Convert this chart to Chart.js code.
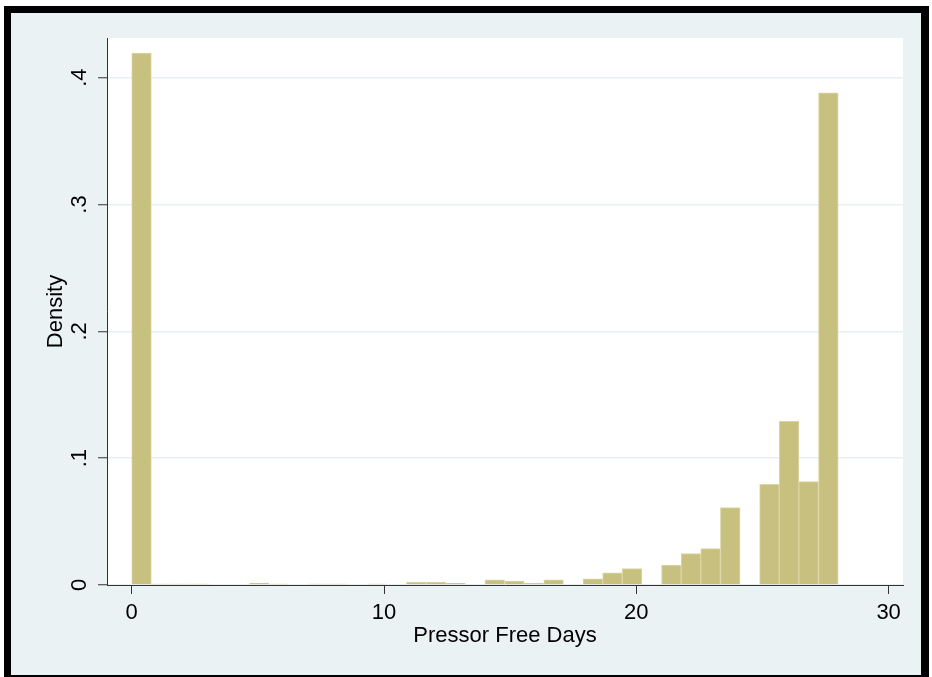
<!DOCTYPE html>
<html>
<head>
<meta charset="utf-8">
<script src="https://cdn.jsdelivr.net/npm/chart.js@4.4.1/dist/chart.umd.min.js"></script>
<style>
  html, body { margin: 0; padding: 0; background: #fff; }
  canvas { display: block; }
</style>
</head>
<body>
<canvas id="hist" width="932" height="677"></canvas>
<script>
// histogram of pressor free days: 36 bins of equal width between 0 and 28
const binStart = 0;
const binWidth = 28 / 36;
const density = [
  0.4195, 0.0008, 0.0008, 0.0008, 0, 0, 0.0016, 0.0008, 0, 0.0008,
  0.0008, 0, 0.0008, 0, 0.0024, 0.0024, 0.0016, 0, 0.0040, 0.0030,
  0.0014, 0.0040, 0, 0.0048, 0.0095, 0.0130, 0, 0.0157, 0.0248, 0.0287,
  0.0610, 0, 0.0793, 0.1290, 0.0815, 0.3880
];
const xTicks = [0, 10, 20, 30];
const xTickLabels = ['0', '10', '20', '30'];
const yTicks = [0, 0.1, 0.2, 0.3, 0.4];
const yTickLabels = ['0', '.1', '.2', '.3', '.4'];

const font = { family: "'Liberation Sans', Arial, sans-serif", size: 22 };
const axisColor = '#333333';

// stata style frame: black border, pale blue graph region, white plot region
const framePlugin = {
  id: 'frame',
  beforeDraw(chart) {
    const ctx = chart.ctx, a = chart.chartArea;
    ctx.save();
    ctx.fillStyle = '#ffffff';
    ctx.fillRect(0, 0, chart.width, chart.height);
    ctx.fillStyle = '#000000';
    ctx.fillRect(4, 6, 925, 671);
    ctx.fillStyle = '#EAF2F3';
    ctx.fillRect(11, 13, 910, 662);
    ctx.fillStyle = '#ffffff';
    ctx.fillRect(a.left, a.top, a.right - a.left, a.bottom - a.top);
    ctx.restore();
  }
};

new Chart(document.getElementById('hist'), {
  type: 'bar',
  data: {
    datasets: [{
      data: density.map((d, i) => ({ x: binStart + (i + 0.5) * binWidth, y: d })),
      backgroundColor: '#C8C07E',
      borderColor: '#DCD6A4',
      borderWidth: 1,
      barPercentage: 1,
      categoryPercentage: 1
    }]
  },
  options: {
    responsive: false,
    animation: false,
    devicePixelRatio: 1,
    layout: { padding: { left: 18, top: 38, right: 29, bottom: 15 } },
    plugins: { legend: { display: false }, tooltip: { enabled: false } },
    scales: {
      x: {
        type: 'linear',
        min: -0.979,
        max: 30.57,
        offset: false,
        afterBuildTicks: s => { s.ticks = xTicks.map(v => ({ value: v })); },
        afterFit: s => { s.height = 77; },
        ticks: {
          padding: 5.5, maxRotation: 0, color: '#000', font,
          callback: (v, i) => xTickLabels[i]
        },
        grid: { offset: false, drawOnChartArea: false, tickColor: axisColor, tickLength: 9, tickWidth: 1 },
        border: { color: axisColor, width: 1, z: 1 },
        title: {
          display: true, text: 'Pressor Free Days', color: '#000', font,
          padding: { top: 0, bottom: 12.8 }
        }
      },
      y: {
        type: 'linear',
        min: 0,
        max: 0.4313,
        afterBuildTicks: s => { s.ticks = yTicks.map(v => ({ value: v })); },
        afterFit: s => { s.width = 89; },
        ticks: {
          minRotation: 90, maxRotation: 90, crossAlign: 'center',
          padding: 8.8, color: '#000', font,
          callback: (v, i) => yTickLabels[i]
        },
        grid: { color: '#E6EFF1', lineWidth: 1.5, tickColor: axisColor, tickLength: 9, tickWidth: 1 },
        border: { color: axisColor, width: 1, z: 1 },
        title: {
          display: true, text: 'Density', color: '#000', font,
          padding: { top: 24.8, bottom: 0 }
        }
      }
    }
  },
  plugins: [framePlugin]
});
</script>
</body>
</html>
